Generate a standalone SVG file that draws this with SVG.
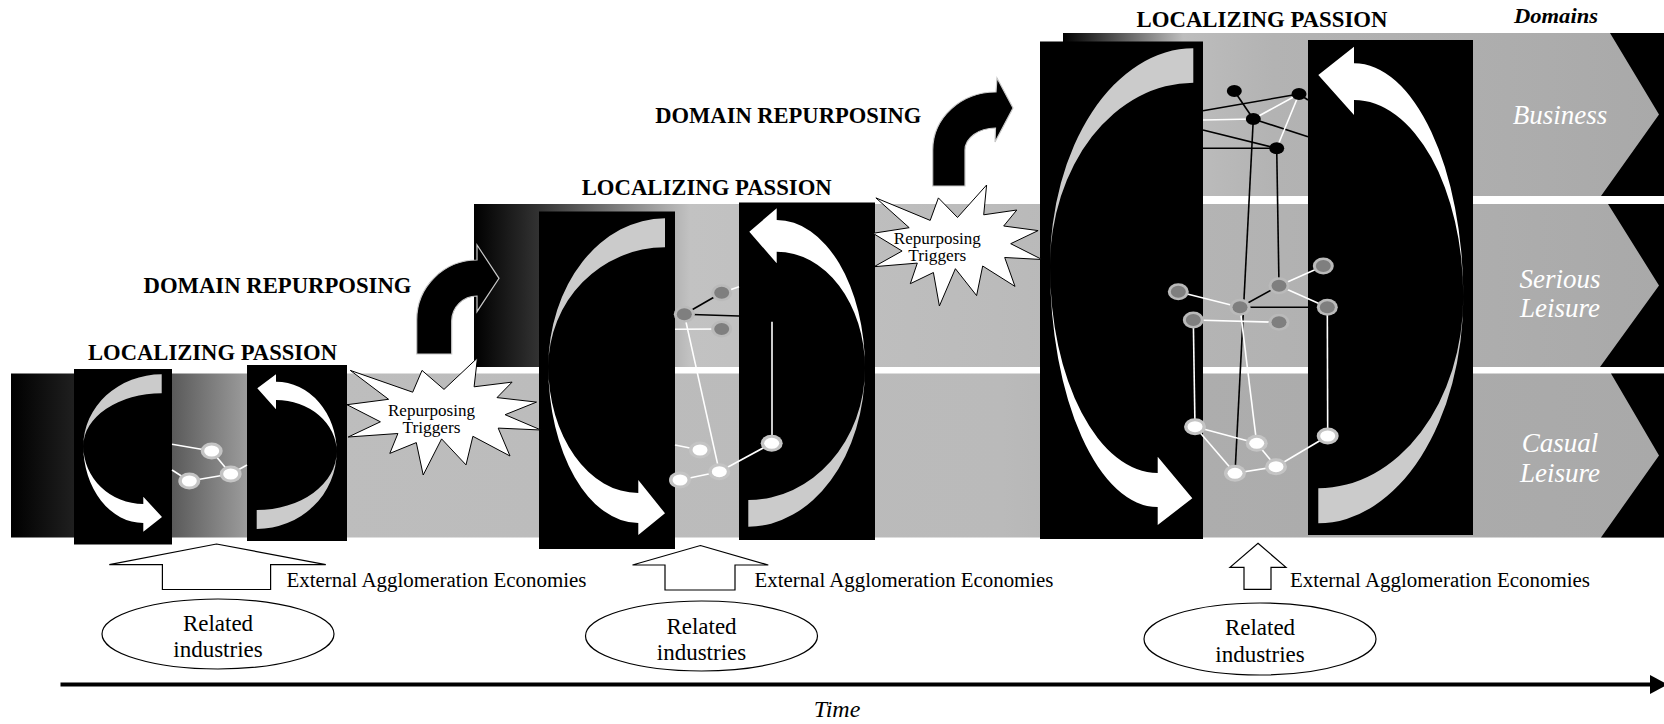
<svg xmlns="http://www.w3.org/2000/svg" width="1664" height="724" viewBox="0 0 1664 724">
<defs>
<linearGradient id="gBottom" gradientUnits="userSpaceOnUse" x1="11" y1="0" x2="1664" y2="0">
<stop offset="0" stop-color="#000"/><stop offset="0.038" stop-color="#1f1f1f"/><stop offset="0.0974" stop-color="#5a5a5a"/><stop offset="0.143" stop-color="#9c9c9c"/><stop offset="0.19" stop-color="#bdbdbd"/><stop offset="0.6" stop-color="#bababa"/><stop offset="0.72" stop-color="#adadad"/><stop offset="1" stop-color="#a9a9a9"/>
</linearGradient>
<linearGradient id="gMid" gradientUnits="userSpaceOnUse" x1="474" y1="0" x2="1664" y2="0">
<stop offset="0" stop-color="#000"/><stop offset="0.055" stop-color="#333"/><stop offset="0.1815" stop-color="#c2c2c2"/><stop offset="0.44" stop-color="#bbbbbb"/><stop offset="0.61" stop-color="#b4b4b4"/><stop offset="1" stop-color="#a9a9a9"/>
</linearGradient>
<linearGradient id="gTop" gradientUnits="userSpaceOnUse" x1="1063" y1="0" x2="1664" y2="0">
<stop offset="0" stop-color="#000"/><stop offset="0.2" stop-color="#bdbdbd"/><stop offset="0.35" stop-color="#b3b3b3"/><stop offset="1" stop-color="#a9a9a9"/>
</linearGradient>
<g id="nw"><ellipse rx="11" ry="8.5" fill="#c4c4c4"/><ellipse rx="7.5" ry="5.5" fill="#fff"/></g>
<g id="ng"><ellipse rx="10.5" ry="8.5" fill="#bababa"/><ellipse rx="7.5" ry="6" fill="#7f7f7f"/></g>
<g id="nb"><ellipse rx="7.5" ry="6" fill="#000"/></g>
<style>
.title{font-family:'Liberation Serif',serif;font-weight:bold;font-size:22.5px;fill:#000;text-anchor:middle}
.dom{font-family:'Liberation Serif',serif;font-style:italic;font-size:27px;fill:#fff;text-anchor:middle}
.domh{font-family:'Liberation Serif',serif;font-style:italic;font-weight:bold;font-size:22px;fill:#000;text-anchor:middle}
.st{font-family:'Liberation Serif',serif;font-size:17px;fill:#000;text-anchor:middle}
.ext{font-family:'Liberation Serif',serif;font-size:20.5px;fill:#000}
.rel{font-family:'Liberation Serif',serif;font-size:23px;fill:#000;text-anchor:middle}
.time{font-family:'Liberation Serif',serif;font-style:italic;font-size:24px;fill:#000;text-anchor:middle}
.box{fill:#000}
.back{fill:#cbcbcb}
.front{fill:#fff}
.wl{stroke:#fff;stroke-width:1.6;fill:none}
.bl{stroke:#000;stroke-width:1.6;fill:none}
.star{fill:#fff;stroke:#000;stroke-width:1}
.up{fill:#fff;stroke:#000;stroke-width:1.2}
.ell{fill:#fff;stroke:#000;stroke-width:1.2}
.darr{fill:#000;stroke:#c8c8c8;stroke-width:1.2}
.notch{fill:#000}
</style>
</defs>
<rect width="1664" height="724" fill="#fff"/>

<g id="domain-bands">
<rect x="11" y="373.5" width="1653" height="164" fill="url(#gBottom)"/>
<rect x="474" y="204" width="1190" height="163" fill="url(#gMid)"/>
<rect x="1063" y="33" width="601" height="163" fill="url(#gTop)"/>
<polygon class="notch" points="1610,33 1664,33 1664,196 1601,196 1659,114.5"/>
<polygon class="notch" points="1608,204 1664,204 1664,367 1600,367 1659,285.5"/>
<polygon class="notch" points="1611,373.5 1664,373.5 1664,537.5 1601,537.5 1659,455.5"/>
</g>

<g id="stage1-left-cycle">
<rect class="box" x="74" y="369" width="98" height="175.5"/>
<path class="back" d="M83.3,446 A78.4 71.7 0 0 1 161.7,374.3 L161.7,393.3 A78.4 52.7 0 0 0 83.3,446 Z"/>
<path class="front" d="M83.3,446 A60 77 0 0 0 143.3,523 L143.3,531.7 L162,517 L143.3,496.7 L143.3,504 A60 58 0 0 1 83.3,446 Z"/>
</g>
<g id="stage1-right-cycle">
<rect class="box" x="247" y="365" width="100" height="176"/>
<path class="back" d="M336.7,451.7 A80 77.3 0 0 1 256.7,529 L256.7,510 A80 58.3 0 0 0 336.7,451.7 Z"/>
<path class="front" d="M336.7,451.7 A60.7 70 0 0 0 276,381.7 L276,374.3 L257.3,388.3 L276,409.3 L276,400 A60.7 51.7 0 0 1 336.7,451.7 Z"/>
</g>

<g id="stage2-left-cycle">
<rect class="box" x="539" y="211.5" width="136" height="337.5"/>
<path class="back" d="M548.3,366.7 A116.7 148.4 0 0 1 665,218.3 L665,247.3 A116.7 119.4 0 0 0 548.3,366.7 Z"/>
<path class="front" d="M548.3,366.7 A90 156.3 0 0 0 638.3,523 L638.3,535 L665,513.3 L638.3,480 L638.3,493 A90 126.3 0 0 1 548.3,366.7 Z"/>
</g>
<g id="stage2-right-cycle">
<rect class="box" x="739" y="202.5" width="136" height="337.5"/>
<path class="back" d="M865,368 A116.7 158.7 0 0 1 748.3,526.7 L748.3,500 A116.7 132 0 0 0 865,368 Z"/>
<path class="front" d="M865,368 A88.3 148 0 0 0 776.7,220 L776.7,208.3 L749.3,231.7 L776.7,263.3 L776.7,251.7 A88.3 116.3 0 0 1 865,368 Z"/>
</g>

<g id="stage3-left-cycle">
<rect class="box" x="1040" y="41.5" width="163" height="497.5"/>
<path class="back" d="M1050,266.7 A143.3 218.4 0 0 1 1193.3,48.3 L1193.3,82.7 A143.3 184 0 0 0 1050,266.7 Z"/>
<path class="front" d="M1050,266.7 A107.7 240.3 0 0 0 1157.7,507 L1157.7,525 L1192.3,498.3 L1157.7,456.7 L1157.7,473 A107.7 206.3 0 0 1 1050,266.7 Z"/>
</g>
<g id="stage3-right-cycle">
<rect class="box" x="1308" y="40" width="165" height="495"/>
<path class="back" d="M1463.3,296.7 A145 226.6 0 0 1 1318.3,523.3 L1318.3,488.3 A145 191.6 0 0 0 1463.3,296.7 Z"/>
<path class="front" d="M1463.3,296.7 A109.3 233.4 0 0 0 1354,63.3 L1354,46.7 L1318.3,75 L1354,115 L1354,100 A109.3 196.7 0 0 1 1463.3,296.7 Z"/>
</g>

<g id="connectors">
<g id="stage1-network-links">
<line class="wl" x1="172" y1="444.3" x2="211.7" y2="451"/>
<line class="wl" x1="211.7" y1="451" x2="230.7" y2="474"/>
<line class="wl" x1="230.7" y1="474" x2="247" y2="465"/>
<line class="wl" x1="189.3" y1="481" x2="230.7" y2="474"/>
<line class="wl" x1="172" y1="470" x2="189.3" y2="481"/>
</g>
<g id="stage2-network-links">
<line class="bl" x1="684.3" y1="314.3" x2="721.7" y2="292.7"/>
<line class="wl" x1="721.7" y1="292.7" x2="739" y2="286.7"/>
<line class="bl" x1="684.3" y1="314.3" x2="739" y2="316"/>
<line class="wl" x1="675" y1="329.3" x2="721.7" y2="329"/>
<line class="wl" x1="684.3" y1="314.3" x2="719.3" y2="471.7"/>
<line class="wl" x1="675" y1="445" x2="700" y2="450"/>
<line class="wl" x1="680" y1="480" x2="719.3" y2="471.7"/>
<line class="wl" x1="719.3" y1="471.7" x2="771.7" y2="443.3"/>
<line class="wl" x1="772" y1="321.7" x2="772" y2="443.3"/>
</g>
<g id="stage3-network-links">
<line class="bl" x1="1203" y1="110.7" x2="1299" y2="94"/>
<line class="bl" x1="1203" y1="130" x2="1276.7" y2="148.3"/>
<line class="bl" x1="1203" y1="148.3" x2="1276.7" y2="148.3"/>
<line class="bl" x1="1234.3" y1="91" x2="1253.3" y2="119"/>
<line class="bl" x1="1253.3" y1="119" x2="1308" y2="136.7"/>
<line class="bl" x1="1299" y1="94" x2="1308" y2="100"/>
<line class="bl" x1="1253.3" y1="119" x2="1235" y2="473.3"/>
<line class="bl" x1="1276.7" y1="148.3" x2="1279" y2="285.7"/>
<line class="bl" x1="1240" y1="307.3" x2="1279" y2="285.7"/>
<line class="bl" x1="1240" y1="307.3" x2="1327.3" y2="307.3"/>
<line class="wl" x1="1203" y1="120" x2="1253.3" y2="119"/>
<line class="wl" x1="1253.3" y1="119" x2="1299" y2="94"/>
<line class="wl" x1="1299" y1="94" x2="1276.7" y2="148.3"/>
<line class="wl" x1="1279" y1="285.7" x2="1323.3" y2="266"/>
<line class="wl" x1="1279" y1="285.7" x2="1327.3" y2="307.3"/>
<line class="wl" x1="1178.3" y1="291.7" x2="1240" y2="307.3"/>
<line class="wl" x1="1193.3" y1="320" x2="1279" y2="322.3"/>
<line class="wl" x1="1193.3" y1="320" x2="1195" y2="426.7"/>
<line class="wl" x1="1327.3" y1="307.3" x2="1327.7" y2="436"/>
<line class="wl" x1="1240" y1="307.3" x2="1256.7" y2="443.3"/>
<line class="wl" x1="1195" y1="426.7" x2="1256.7" y2="443.3"/>
<line class="wl" x1="1195" y1="426.7" x2="1235" y2="473.3"/>
<line class="wl" x1="1235" y1="473.3" x2="1276" y2="466.7"/>
<line class="wl" x1="1276" y1="466.7" x2="1327.7" y2="436"/>
<line class="wl" x1="1256.7" y1="443.3" x2="1276" y2="466.7"/>
</g>
<line id="time-axis" x1="60.5" y1="684.5" x2="1652" y2="684.5" stroke="#000" stroke-width="4"/>
<polygon points="1650,675 1668,684.5 1650,694" fill="#000"/>
</g>

<g id="stage1-network-nodes">
<use href="#nw" x="211.7" y="451"/><use href="#nw" x="230.7" y="474"/><use href="#nw" x="189.3" y="481"/>
</g>
<g id="stage2-network-nodes">
<use href="#ng" x="721.7" y="292.7"/><use href="#ng" x="684.3" y="314.3"/><use href="#ng" x="721.7" y="329"/>
<use href="#nw" x="700" y="450"/><use href="#nw" x="719.3" y="471.7"/><use href="#nw" x="680" y="480"/><use href="#nw" x="771.7" y="443.3"/>
</g>
<g id="stage3-network-nodes">
<use href="#nb" x="1234.3" y="91"/><use href="#nb" x="1299" y="94"/><use href="#nb" x="1253.3" y="119"/><use href="#nb" x="1276.7" y="148.3"/>
<use href="#ng" x="1323.3" y="266"/><use href="#ng" x="1279" y="285.7"/><use href="#ng" x="1240" y="307.3"/><use href="#ng" x="1327.3" y="307.3"/><use href="#ng" x="1279" y="322.3"/><use href="#ng" x="1178.3" y="291.7"/><use href="#ng" x="1193.3" y="320"/>
<use href="#nw" x="1195" y="426.7"/><use href="#nw" x="1256.7" y="443.3"/><use href="#nw" x="1276" y="466.7"/><use href="#nw" x="1235" y="473.3"/><use href="#nw" x="1327.7" y="436"/>
</g>

<g id="trigger1">
<polygon class="star" points="444,389.4 477.4,358 474.1,386.8 512.1,382.1 497,397.6 536.5,402.1 505.1,414.7 541,430 498.2,428.1 510,456 472.9,436.3 466,464.9 441.6,438.9 423.2,475 416.3,442.6 389.8,453.4 397.9,433.5 348.2,437 380.4,421.8 347,404.7 388.6,399.3 350.3,370.4 412.7,392.2 422,370.4"/>
<text class="st" style="font-family:'Liberation Serif',serif" x="431.5" y="416" textLength="87" lengthAdjust="spacingAndGlyphs">Repurposing</text>
<text class="st" style="font-family:'Liberation Serif',serif" x="431.5" y="433" textLength="58" lengthAdjust="spacingAndGlyphs">Triggers</text>
</g>
<g id="trigger2">
<polygon class="star" points="957.5,217.5 986.6,185 983.7,214.8 1016.8,210 1003.7,226 1038.1,230.6 1010.7,243.7 1042,259.5 1004.7,257.5 1015,286.4 982.7,266 976.6,295.6 955.4,268.7 939.4,306 933.4,272.5 910.3,283.7 917.3,263.1 874.1,266.7 902.1,251 873,233.3 909.2,227.7 875.9,197.9 930.2,220.4 938.4,197.9"/>
<text class="st" style="font-family:'Liberation Serif',serif" x="937.3" y="244" textLength="87" lengthAdjust="spacingAndGlyphs">Repurposing</text>
<text class="st" style="font-family:'Liberation Serif',serif" x="937.3" y="261" textLength="58" lengthAdjust="spacingAndGlyphs">Triggers</text>
</g>

<g id="repurpose-arrow1">
<path class="darr" d="M416.7,354 L416.7,320 A60.3 60 0 0 1 477,260 L477,245 L499,278.3 L477,311.7 L477,296 A25.3 25 0 0 0 451.7,321 L451.7,354 Z"/>
</g>
<g id="repurpose-arrow2">
<path class="darr" d="M932.7,186 L932.7,150 A63 58 0 0 1 996,92 L997,78 L1013,108 L995,142 L995.5,128 A30.5 22 0 0 0 965,150 L965,186 Z"/>
</g>

<g id="labels">
<text class="title" style="font-family:'Liberation Serif',serif" x="212.5" y="360" textLength="249" lengthAdjust="spacingAndGlyphs">LOCALIZING PASSION</text>
<text class="title" style="font-family:'Liberation Serif',serif" x="706.7" y="195" textLength="250" lengthAdjust="spacingAndGlyphs">LOCALIZING PASSION</text>
<text class="title" style="font-family:'Liberation Serif',serif" x="1262" y="27" textLength="251" lengthAdjust="spacingAndGlyphs">LOCALIZING PASSION</text>
<text class="title" style="font-family:'Liberation Serif',serif" x="277.5" y="293" textLength="268" lengthAdjust="spacingAndGlyphs">DOMAIN REPURPOSING</text>
<text class="title" style="font-family:'Liberation Serif',serif" x="788.3" y="123" textLength="266" lengthAdjust="spacingAndGlyphs">DOMAIN REPURPOSING</text>
<text class="domh" style="font-family:'Liberation Serif',serif" x="1556" y="23" textLength="84" lengthAdjust="spacingAndGlyphs">Domains</text>
<text class="dom" style="font-family:'Liberation Serif',serif" x="1560" y="124">Business</text>
<text class="dom" style="font-family:'Liberation Serif',serif" x="1560" y="288">Serious</text>
<text class="dom" style="font-family:'Liberation Serif',serif" x="1560" y="317">Leisure</text>
<text class="dom" style="font-family:'Liberation Serif',serif" x="1560" y="452">Casual</text>
<text class="dom" style="font-family:'Liberation Serif',serif" x="1560" y="482">Leisure</text>
<text class="time" style="font-family:'Liberation Serif',serif" x="837" y="717">Time</text>
</g>

<g id="externals1">
<polygon class="up" points="216.5,544 325.8,564.6 270.6,564.6 270.6,589.5 162.4,589.5 162.4,564.6 109.3,564.6"/>
<text class="ext" style="font-family:'Liberation Serif',serif" x="286.5" y="587" textLength="300" lengthAdjust="spacingAndGlyphs">External Agglomeration Economies</text>
</g>
<g id="externals2">
<polygon class="up" points="700.4,545.5 768.3,565 735,565 735,590 665,590 665,565 632.5,565"/>
<text class="ext" style="font-family:'Liberation Serif',serif" x="754.5" y="587" textLength="299" lengthAdjust="spacingAndGlyphs">External Agglomeration Economies</text>
</g>
<g id="externals3">
<polygon class="up" points="1258,543.3 1286,567.3 1271,567.3 1271,589.3 1244,589.3 1244,567.3 1230,567.3"/>
<text class="ext" style="font-family:'Liberation Serif',serif" x="1290" y="587" textLength="300" lengthAdjust="spacingAndGlyphs">External Agglomeration Economies</text>
</g>

<g id="related1">
<ellipse class="ell" cx="218" cy="634" rx="116" ry="35"/>
<text class="rel" style="font-family:'Liberation Serif',serif" x="218" y="631">Related</text>
<text class="rel" style="font-family:'Liberation Serif',serif" x="218" y="657">industries</text>
</g>
<g id="related2">
<ellipse class="ell" cx="701.5" cy="636" rx="116" ry="35"/>
<text class="rel" style="font-family:'Liberation Serif',serif" x="701.5" y="634">Related</text>
<text class="rel" style="font-family:'Liberation Serif',serif" x="701.5" y="660">industries</text>
</g>
<g id="related3">
<ellipse class="ell" cx="1260" cy="639" rx="116" ry="36"/>
<text class="rel" style="font-family:'Liberation Serif',serif" x="1260" y="635">Related</text>
<text class="rel" style="font-family:'Liberation Serif',serif" x="1260" y="662">industries</text>
</g>
</svg>
